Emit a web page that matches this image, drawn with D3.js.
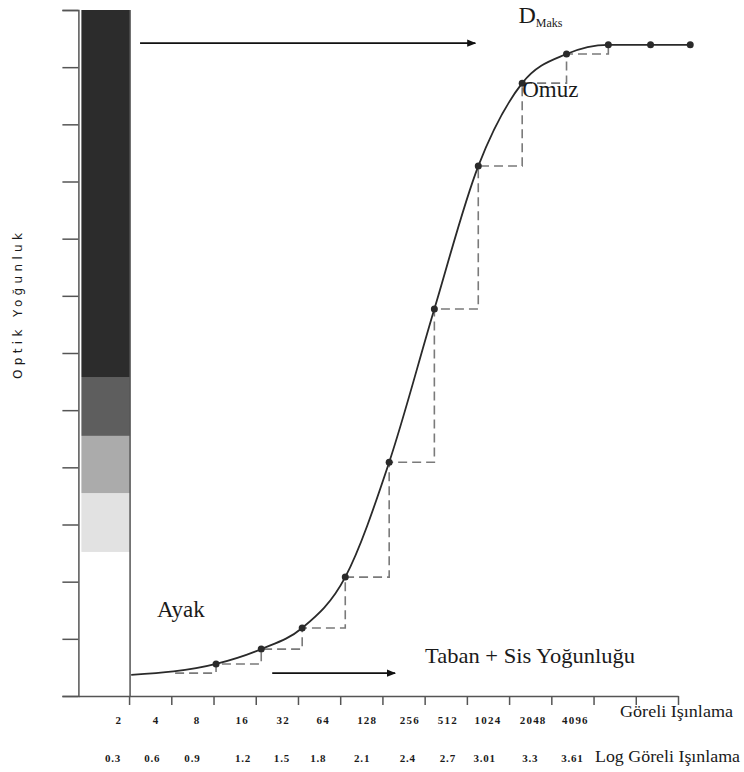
<!DOCTYPE html>
<html>
<head>
<meta charset="utf-8">
<script src="https://cdn.jsdelivr.net/npm/d3@7"></script>
<style>
  body { margin: 0; background: #fff; }
  text { font-family: "Liberation Serif", "Times New Roman", serif; fill: #1a1a1a; }
</style>
</head>
<body>
<script>
// exposure steps (index along the x axis) and optical density of the dots
var dotStep = [2.06, 3.13, 4.10, 5.12, 6.16, 7.23, 8.27, 9.31, 10.36, 11.35, 12.35, 13.29]
var dotDensity = [0.56, 0.82, 1.19, 2.08, 4.09, 6.77, 9.27, 10.72, 11.23, 11.39, 11.39, 11.39]

// where the curve and the staircase start (base + fog level)
var curveStart = [0.05, 0.37]
var stepStart = [1.09, 0.40]

// labels under the x axis
var relLabels = ['2', '4', '8', '16', '32', '64', '128', '256', '512', '1024', '2048', '4096']
var logLabels = ['0.3', '0.6', '0.9', '1.2', '1.5', '1.8', '2.1', '2.4', '2.7', '3.01', '3.3', '3.61']
var relLabelPos = [-0.24, 0.64, 1.61, 2.68, 3.65, 4.6, 5.64, 6.65, 7.55, 8.5, 9.57, 10.57]
var logLabelPos = [-0.38, 0.55, 1.5, 2.7, 3.62, 4.48, 5.52, 6.6, 7.55, 8.42, 9.5, 10.5]

// grey wedge on the left: density bands (bottom, top) and colours
var bandLow = [0, 2.52, 3.55, 4.55, 5.58]
var bandHigh = [2.52, 3.55, 4.55, 5.58, 12]
var bandFill = ['#ffffff', '#e2e2e2', '#ababab', '#5e5e5e', '#2c2c2c']

var svg = d3.select('body').append('svg')
    .attr('width', 744).attr('height', 772)

var x = d3.scaleLinear().domain([-1.2, 13]).range([78.4, 678])
var y = d3.scaleLinear().domain([0, 12]).range([696, 10])

// arrow marker
svg.append('defs').append('marker')
    .attr('id', 'arrow')
    .attr('viewBox', '0 0 10 10')
    .attr('refX', 9).attr('refY', 5)
    .attr('markerWidth', 11).attr('markerHeight', 9)
    .attr('markerUnits', 'userSpaceOnUse')
    .attr('orient', 'auto')
  .append('path')
    .attr('d', 'M0,1 L10,5 L0,9 z')
    .attr('fill', '#111')

// wedge bands
svg.selectAll('.band')
    .data(bandLow)
    .enter()
    .append('rect')
    .attr('class', 'band')
    .attr('x', x(-1.2) + 3)
    .attr('width', x(0) - x(-1.2) - 2)
    .attr('y', function(d, i){ return y(bandHigh[i]) })
    .attr('height', function(d, i){ return y(d) - y(bandHigh[i]) })
    .attr('fill', function(d, i){ return bandFill[i] })

// right edge of the wedge / left edge of plot
svg.append('line')
    .attr('x1', x(0) + 1).attr('x2', x(0) + 1)
    .attr('y1', y(12)).attr('y2', y(0))
    .attr('stroke', '#555').attr('stroke-width', 1.5)

// y axis (ticks only)
var yAxis = d3.axisLeft(y).tickValues(d3.range(0, 13)).tickSize(16).tickFormat('')
var gy = svg.append('g').attr('transform', 'translate(' + x(-1.2) + ',0)').call(yAxis)
gy.select('.domain').attr('stroke', '#555').attr('stroke-width', 1.5)
gy.selectAll('.tick line').attr('stroke', '#555').attr('stroke-width', 1.5)

// x axis (ticks only)
var xAxis = d3.axisBottom(x).tickValues(d3.range(0, 14)).tickSize(9).tickSizeOuter(0).tickFormat('')
var gx = svg.append('g').attr('transform', 'translate(0,' + y(0) + ')').call(xAxis)
gx.select('.domain').attr('stroke', '#555').attr('stroke-width', 1.5)
gx.selectAll('.tick line').attr('stroke', '#555').attr('stroke-width', 1.5)

// tick labels
svg.selectAll('.rel-label')
    .data(relLabels)
    .enter()
    .append('text')
    .attr('class', 'rel-label')
    .attr('x', function(d, i){ return x(relLabelPos[i]) })
    .attr('y', 724)
    .attr('text-anchor', 'middle')
    .style('font-size', '11px')
    .style('font-weight', 'bold')
    .style('letter-spacing', '1.2px')
    .text(function(d){ return d })

svg.selectAll('.log-label')
    .data(logLabels)
    .enter()
    .append('text')
    .attr('class', 'log-label')
    .attr('x', function(d, i){ return x(logLabelPos[i]) })
    .attr('y', 762)
    .attr('text-anchor', 'middle')
    .style('font-size', '11px')
    .style('font-weight', 'bold')
    .style('letter-spacing', '0.8px')
    .text(function(d){ return d })

svg.append('text')
    .attr('x', 620).attr('y', 717)
    .attr('textLength', 113).attr('lengthAdjust', 'spacingAndGlyphs')
    .style('font-size', '17px')
    .text('Göreli Işınlama')

svg.append('text')
    .attr('x', 595).attr('y', 762)
    .attr('textLength', 145).attr('lengthAdjust', 'spacingAndGlyphs')
    .style('font-size', '17px')
    .text('Log Göreli Işınlama')

// y axis title
svg.append('text')
    .attr('transform', 'translate(22,306) rotate(-90)')
    .attr('text-anchor', 'middle')
    .attr('textLength', 146).attr('lengthAdjust', 'spacing')
    .style('font-size', '12px')
    .style('font-family', '"DejaVu Sans", sans-serif')
    .text('Optik Yoğunluk')

// dashed staircase
var stepPts = [stepStart].concat(dotStep.slice(0, 10).map(function(d, i){ return [d, dotDensity[i]] }))
svg.append('path')
    .datum(stepPts)
    .attr('d', d3.line().x(function(d){ return x(d[0]) }).y(function(d){ return y(d[1]) }).curve(d3.curveStepAfter))
    .attr('fill', 'none')
    .attr('stroke', '#7a7a7a')
    .attr('stroke-width', 1.6)
    .attr('stroke-dasharray', '9,5')

// characteristic curve
var curvePts = [curveStart].concat(dotStep.map(function(d, i){ return [d, dotDensity[i]] }))
svg.append('path')
    .datum(curvePts)
    .attr('d', d3.line().x(function(d){ return x(d[0]) }).y(function(d){ return y(d[1]) }).curve(d3.curveMonotoneX))
    .attr('fill', 'none')
    .attr('stroke', '#2a2a2a')
    .attr('stroke-width', 1.8)

svg.selectAll('.dot')
    .data(dotStep)
    .enter()
    .append('circle')
    .attr('class', 'dot')
    .attr('cx', function(d){ return x(d) })
    .attr('cy', function(d, i){ return y(dotDensity[i]) })
    .attr('r', 3.5)
    .attr('fill', '#2a2a2a')

// arrows
svg.append('line')
    .attr('x1', x(0.26)).attr('x2', x(8.2))
    .attr('y1', y(11.42)).attr('y2', y(11.42))
    .attr('stroke', '#111').attr('stroke-width', 1.6)
    .attr('marker-end', 'url(#arrow)')

svg.append('line')
    .attr('x1', x(3.39)).attr('x2', x(6.3))
    .attr('y1', y(0.4)).attr('y2', y(0.4))
    .attr('stroke', '#111').attr('stroke-width', 1.6)
    .attr('marker-end', 'url(#arrow)')

// annotations
var dmax = svg.append('text')
    .attr('x', x(9.22)).attr('y', y(11.77))
    .style('font-size', '24px')
dmax.append('tspan').text('D')
dmax.append('tspan').attr('dy', 4).style('font-size', '12px').text('Maks')

svg.append('text')
    .attr('x', x(9.31)).attr('y', y(10.48))
    .style('font-size', '23px')
    .text('Omuz')

svg.append('text')
    .attr('x', x(0.66)).attr('y', y(1.38))
    .style('font-size', '23px')
    .text('Ayak')

svg.append('text')
    .attr('x', x(7.01)).attr('y', y(0.58))
    .attr('textLength', 210).attr('lengthAdjust', 'spacingAndGlyphs')
    .style('font-size', '22px')
    .text('Taban + Sis Yoğunluğu')
</script>
</body>
</html>
